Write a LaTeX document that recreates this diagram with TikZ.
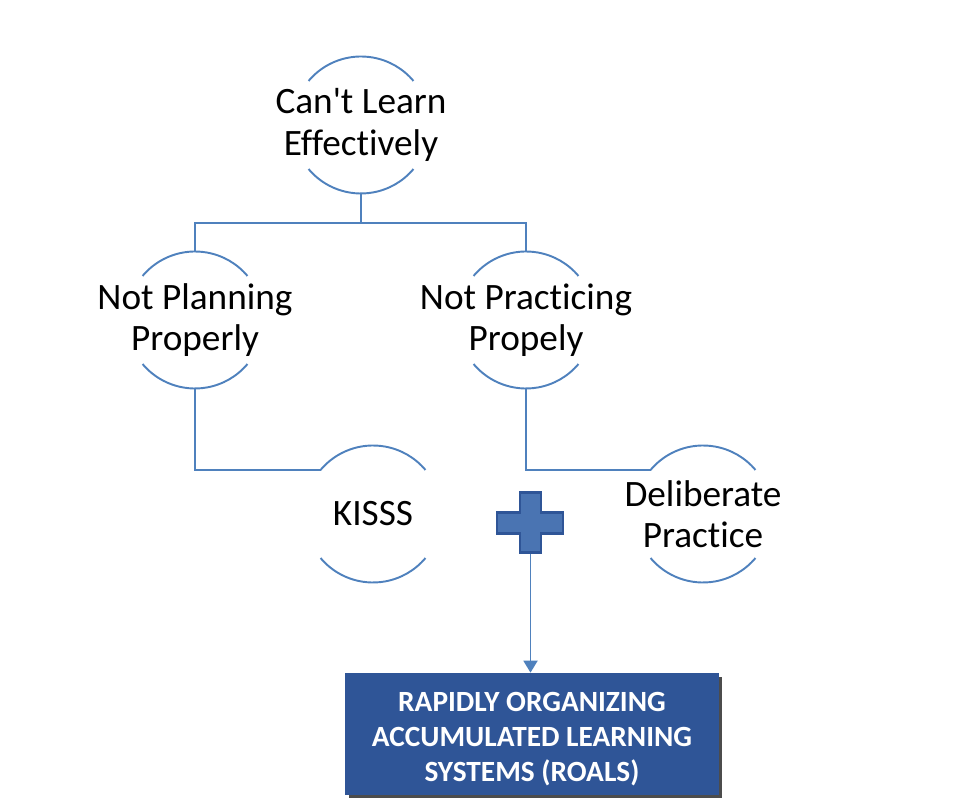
\documentclass[tikz,border=0pt]{standalone}
\usepackage{fontspec}
\setmainfont{Carlito}[Ligatures={TeXOff,CommonOff}]
\usetikzlibrary{arrows.meta,shadows}
\definecolor{lineblue}{HTML}{4F81BD}
\definecolor{plusblue}{HTML}{4A74B2}
\definecolor{plusedge}{HTML}{2F5597}
\definecolor{boxblue}{HTML}{2F5597}
\tikzset{
	ln/.style={draw=lineblue, line width=1.1pt},
	lbl/.style={align=center, inner sep=0pt, font=\fontsize{21.2}{23.6}\selectfont},
	roalsbox/.style={fill=boxblue, inner sep=0pt,
		minimum width=7.48cm, minimum height=2.44cm,
		drop shadow={shadow xshift=0.07cm, shadow yshift=-0.07cm, fill=black, opacity=0.7}},
	roalstxt/.style={text=white, align=center, inner sep=0pt,
		font=\fontsize{16.7}{20}\selectfont\bfseries}
}
\begin{document}
\begin{tikzpicture}[x=0.02cm, y=0.02cm]
		\useasboundingbox (0,0) rectangle (976,811);
		
		% circle centres
		\coordinate (c1) at (361,686);
		\coordinate (c2) at (195,491);
		\coordinate (c3) at (526,491);
		\coordinate (c4) at (373,297);
		\coordinate (c5) at (703,297);
		
		% open circles
		\draw[ln] (c1) ++(140:68.5) arc (140:40:68.5) (c1) ++(-140:68.5) arc (-140:-40:68.5);
		\draw[ln] (c2) ++(140:68.5) arc (140:40:68.5) (c2) ++(-140:68.5) arc (-140:-40:68.5);
		\draw[ln] (c3) ++(140:68.5) arc (140:40:68.5) (c3) ++(-140:68.5) arc (-140:-40:68.5);
		\draw[ln] (c4) ++(140:68.5) arc (140:40:68.5) (c4) ++(-140:68.5) arc (-140:-40:68.5);
		\draw[ln] (c5) ++(140:68.5) arc (140:40:68.5) (c5) ++(-140:68.5) arc (-140:-40:68.5);
		
		\node[lbl] (cant) at (c1) {Can't Learn\\Effectively};
		\node[lbl] (plan) at (c2) {Not Planning\\Properly};
		\node[lbl] (prac) at (c3) {Not Practicing\\Propely};
		\node[lbl] (kisss) at (c4) {KISSS};
		\node[lbl] (delib) at (c5) {Deliberate\\Practice};
		
		% connector ends on the circles
		\coordinate (c1b) at (361,617.5);
		\coordinate (bus) at (361,588.3);
		\coordinate (c2t) at (195,559.5); \coordinate (c2b) at (195,422.5);
		\coordinate (c3t) at (526,559.5); \coordinate (c3b) at (526,422.5);
		\coordinate (c4w) at (320.5,341);
		\coordinate (c5w) at (650.5,341);
		
		\draw[ln] (c1b) -- (bus) -| (c2t);
		\draw[ln] (bus) -| (c3t);
		\draw[ln] (c2b) |- (c4w);
		\draw[ln] (c3b) |- (c5w);
		
		% plus sign
		\draw[fill=plusblue, draw=plusedge, line width=1.4pt] (520,318.3) -- (541,318.3) -- (541,298.3) -- (563,298.3) -- (563,277.7) -- (541,277.7) -- (541,258.3) -- (520,258.3) -- (520,277.7) -- (497,277.7) -- (497,298.3) -- (520,298.3) -- cycle;
		\coordinate (plusb) at (530.5,257);
		
		\node[roalsbox] (roals) at (532,77) {};
		\node[roalstxt] (roalstext) at (532,72) {RAPIDLY ORGANIZING\\ACCUMULATED LEARNING\\SYSTEMS (ROALS)};
		\draw[ln, -{Triangle[width=0.28cm, length=0.24cm]}] (plusb) -- (plusb |- roals.north);
		
\end{tikzpicture}
\end{document}
